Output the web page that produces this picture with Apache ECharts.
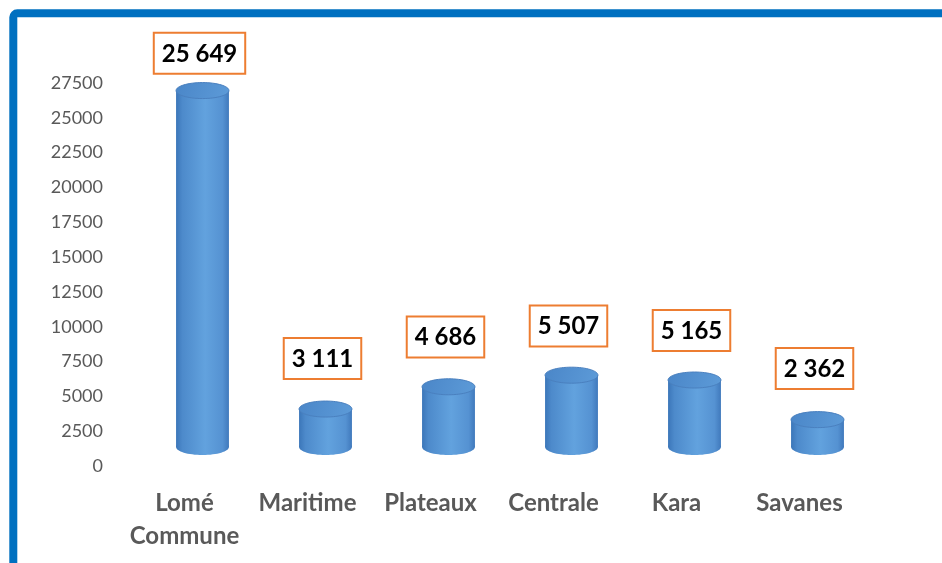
<!DOCTYPE html>
<html>
<head>
<meta charset="utf-8">
<script src="https://cdn.jsdelivr.net/npm/echarts@6/dist/echarts.min.js"></script>
<style>
html,body{margin:0;padding:0;background:#fff;}
#chart{width:942px;height:563px;}
</style>
</head>
<body>
<div id="chart"></div>
<script>
const categories = ['Lomé\nCommune', 'Maritime', 'Plateaux', 'Centrale', 'Kara', 'Savanes'];
const values = [25649, 3111, 4686, 5507, 5165, 2362];
const yMax = 27500;
const yStep = 2500;

function fmt(v) {
  return String(v).replace(/\B(?=(\d{3})+(?!\d))/g, ' ');
}

const TOP_LIFT = 13;     // perspective offset of the cylinder tops (px)
const BASE_LIFT = 19;    // perspective offset of the cylinder floor (px)
const SCALE = 1.0146;    // perspective height factor
const RY = 8;            // ellipse half-height
const LABEL_LIFT = 46;   // label box bottom offset (px)
const LABEL_SCALE = 0.972;

const chart = echarts.init(document.getElementById('chart'));
chart.setOption({
  animation: false,
  backgroundColor: '#ffffff',
  grid: { left: 141, right: 63, top: 83, bottom: 97 },
  xAxis: {
    type: 'category',
    data: categories,
    axisLine: { show: false },
    axisTick: { show: false },
    axisLabel: {
      interval: 0,
      margin: 21,
      fontFamily: 'Lato',
      fontWeight: 'bold',
      fontSize: 24,
      lineHeight: 33,
      color: '#595959',
      padding: [0, 36, 0, 0]
    }
  },
  yAxis: {
    type: 'value',
    min: 0,
    max: yMax,
    interval: yStep,
    axisLine: { show: false },
    axisTick: { show: false },
    splitLine: { show: false },
    axisLabel: {
      margin: 38,
      fontFamily: 'Lato',
      fontSize: 18,
      color: '#595959',
      formatter: function (v) { return String(v); }
    }
  },
  graphic: [{
    type: 'rect',
    silent: true,
    z: 100,
    shape: { x: 13.3, y: 13.3, width: 2000, height: 2000, r: 4 },
    style: { fill: 'none', stroke: '#0070C0', lineWidth: 8 }
  }],
  series: [{
    type: 'custom',
    data: values.map((v, i) => [i, v]),
    encode: { x: 0, y: 1 },
    renderItem: function (params, api) {
      const i = api.value(0), v = api.value(1);
      const base = api.coord([i, 0]);
      const top = api.coord([i, v]);
      const bw = api.size([1, 0])[0] * 0.43;
      const cx = base[0];
      const yb = base[1] - BASE_LIFT;
      const yt = base[1] - TOP_LIFT - (base[1] - top[1]) * SCALE;
      const yl = base[1] - LABEL_LIFT - (base[1] - top[1]) * LABEL_SCALE;
      const rx = bw / 2;
      const bodyGrad = new echarts.graphic.LinearGradient(0, 0, 1, 0, [
        { offset: 0, color: '#3b76b9' },
        { offset: 0.12, color: '#4d8acb' },
        { offset: 0.55, color: '#62a2de' },
        { offset: 0.88, color: '#5592d2' },
        { offset: 1, color: '#4079bc' }
      ]);
      const topGrad = new echarts.graphic.LinearGradient(0, 0, 1, 1, [
        { offset: 0, color: '#4a86c8' },
        { offset: 1, color: '#5d9bd8' }
      ]);
      return {
        type: 'group',
        children: [
          {
            type: 'ellipse',
            shape: { cx: cx, cy: yb, rx: rx, ry: RY },
            style: { fill: bodyGrad }
          },
          {
            type: 'rect',
            shape: { x: cx - rx, y: yt, width: bw, height: yb - yt },
            style: { fill: bodyGrad }
          },
          {
            type: 'ellipse',
            shape: { cx: cx, cy: yt, rx: rx, ry: RY },
            style: { fill: topGrad, stroke: '#4a80bf', lineWidth: 1 }
          },
          {
            type: 'text',
            x: cx - 3,
            y: yl,
            style: {
              text: fmt(v),
              fontFamily: 'Lato',
              fontWeight: 'bold',
              fontSize: 24,
              lineHeight: 28,
              fill: '#000000',
              align: 'center',
              verticalAlign: 'bottom',
              backgroundColor: '#ffffff',
              borderColor: '#ED7D31',
              borderWidth: 2,
              padding: [6, 7, 5, 7]
            }
          }
        ]
      };
    }
  }]
});
</script>
</body>
</html>
